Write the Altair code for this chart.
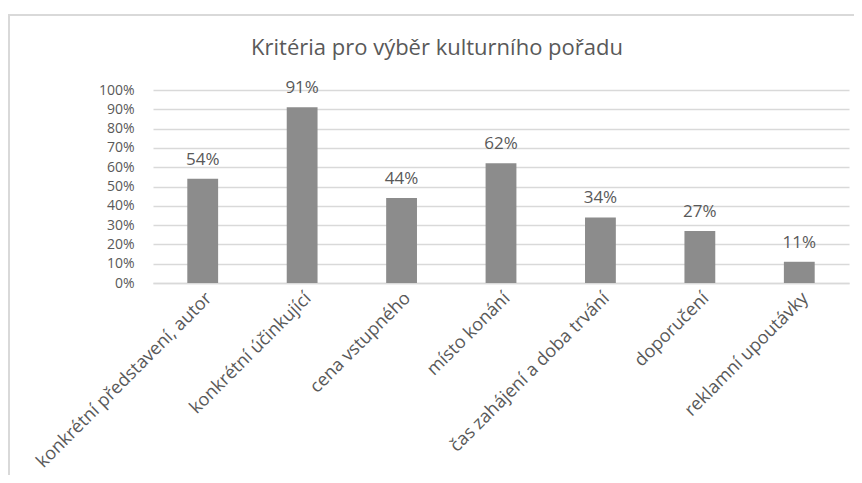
import altair as alt
import pandas as pd

categories = [
    "konkrétní představení, autor",
    "konkrétní účinkující",
    "cena vstupného",
    "místo konání",
    "čas zahájení a doba trvání",
    "doporučení",
    "reklamní upoutávky",
]
values = [0.54, 0.91, 0.44, 0.62, 0.34, 0.27, 0.11]
y_ticks = [0, 0.1, 0.2, 0.3, 0.4, 0.5, 0.6, 0.7, 0.8, 0.9, 1.0]
title_text = "Kritéria pro výběr kulturního pořadu"

df = pd.DataFrame({"kategorie": categories, "podil": values})

FONT = "Open Sans"
TXT = "#595959"

x_enc = alt.X(
    "kategorie:N",
    sort=categories,
    scale=alt.Scale(paddingInner=0.69, paddingOuter=0.345),
    axis=alt.Axis(
        title=None,
        labelAngle=-45,
        labelAlign="right",
        labelBaseline="top",
        labelFont=FONT,
        labelFontSize=18,
        labelColor=TXT,
        labelPadding=6,
        ticks=False,
        domain=True,
        domainColor="#d9d9d9",
        domainWidth=1.5,
        labelLimit=400,
        labelOverlap=False,
    ),
)
y_enc = alt.Y(
    "podil:Q",
    scale=alt.Scale(domain=[0, 1], nice=False),
    axis=alt.Axis(
        title=None,
        values=y_ticks,
        format=".0%",
        labelFont=FONT,
        labelFontSize=14,
        labelColor=TXT,
        labelPadding=19,
        labelOverlap=False,
        labelFlush=False,
        ticks=False,
        domain=False,
        grid=True,
        gridColor="#d9d9d9",
        gridWidth=1.5,
    ),
)

bars = alt.Chart(df).mark_bar(color="#8c8c8c").encode(x=x_enc, y=y_enc)

labels = alt.Chart(df).mark_text(
    font=FONT, fontSize=17, color=TXT, baseline="alphabetic", dy=-14
).encode(
    x=x_enc,
    y=y_enc,
    text=alt.Text("podil:Q", format=".0%"),
)

frame = alt.Chart(df).mark_rect(
    fill=None, stroke="#d9d9d9", strokeWidth=2
).encode(
    x=alt.value(-144),
    x2=alt.value(760),
    y=alt.value(-75),
    y2=alt.value(450),
)

title = alt.Chart(pd.DataFrame({"t": [title_text]})).mark_text(
    font=FONT, fontSize=22, color=TXT, align="center", baseline="alphabetic"
).encode(
    text="t:N",
    x=alt.value(284),
    y=alt.value(-35),
)

chart = (
    alt.layer(bars, labels, frame, title)
    .properties(
        width=696,
        height=193,
        padding={"left": 145, "top": 82, "right": 5, "bottom": 192},
        autosize=alt.AutoSizeParams(type="none"),
    )
    .configure_view(stroke=None)
)

chart.save("out.html", embed_options={"renderer": "svg", "actions": False})
